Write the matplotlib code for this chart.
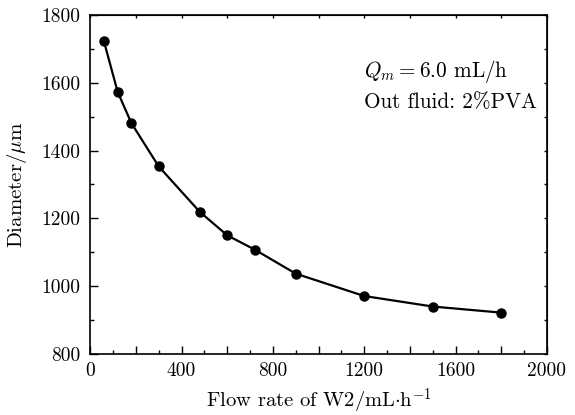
import matplotlib
matplotlib.use("Agg")
import matplotlib.pyplot as plt
from matplotlib.ticker import MultipleLocator, FuncFormatter

flow_rate = [60, 120, 180, 300, 480, 600, 720, 900, 1200, 1500, 1800]
diameter = [1722, 1573, 1481, 1353, 1219, 1150, 1108, 1037, 971, 940, 922]

plt.rcParams['mathtext.fontset'] = 'cm'
plt.rcParams['font.family'] = ['cmr10', 'DejaVu Serif']
plt.rcParams['axes.unicode_minus'] = False

fig = plt.figure(figsize=(5.75, 4.15), dpi=100)
ax = fig.add_axes([0.157, 0.147, 0.794, 0.817])

ax.plot(flow_rate, diameter, color='black', lw=1.6, marker='o', ms=6.5)

ax.set_xlim(0, 2000)
ax.set_ylim(800, 1800)
ax.xaxis.set_major_locator(MultipleLocator(200))
ax.xaxis.set_minor_locator(MultipleLocator(100))
ax.yaxis.set_major_locator(MultipleLocator(200))
ax.yaxis.set_minor_locator(MultipleLocator(100))
ax.xaxis.set_major_formatter(FuncFormatter(lambda v, p: '%d' % v if round(v) % 400 == 0 else ''))
ax.yaxis.set_major_formatter(FuncFormatter(lambda v, p: '%d' % v))

ax.tick_params(which='major', direction='in', length=6, width=1, labelsize=14)
ax.tick_params(axis='y', which='major', pad=7)
ax.tick_params(axis='x', which='major', pad=6)
ax.tick_params(which='minor', direction='in', length=3, width=1)

top = ax.secondary_xaxis('top')
top.xaxis.set_major_locator(MultipleLocator(200))
top.tick_params(which='major', direction='in', length=2.5, width=1, labeltop=False)
right = ax.secondary_yaxis('right')
right.yaxis.set_major_locator(MultipleLocator(100))
right.tick_params(which='major', direction='in', length=2.5, width=1, labelright=False)

for s in ax.spines.values():
    s.set_linewidth(1.2)

ax.set_xlabel(r'Flow rate of W2/mL$\cdot$h$^{-1}$', fontsize=14.8, labelpad=4.5)
ax.set_ylabel(r'Diameter/$\mu$m', fontsize=15, labelpad=9)

ax.text(1200, 1634, r'$Q_m = $' + '6.0 mL/h', fontsize=15.3, ha='left', va='center')
ax.text(1200, 1542, 'Out fluid: 2%PVA', fontsize=15.3, ha='left', va='center')

fig.savefig('out.png', dpi=100)
